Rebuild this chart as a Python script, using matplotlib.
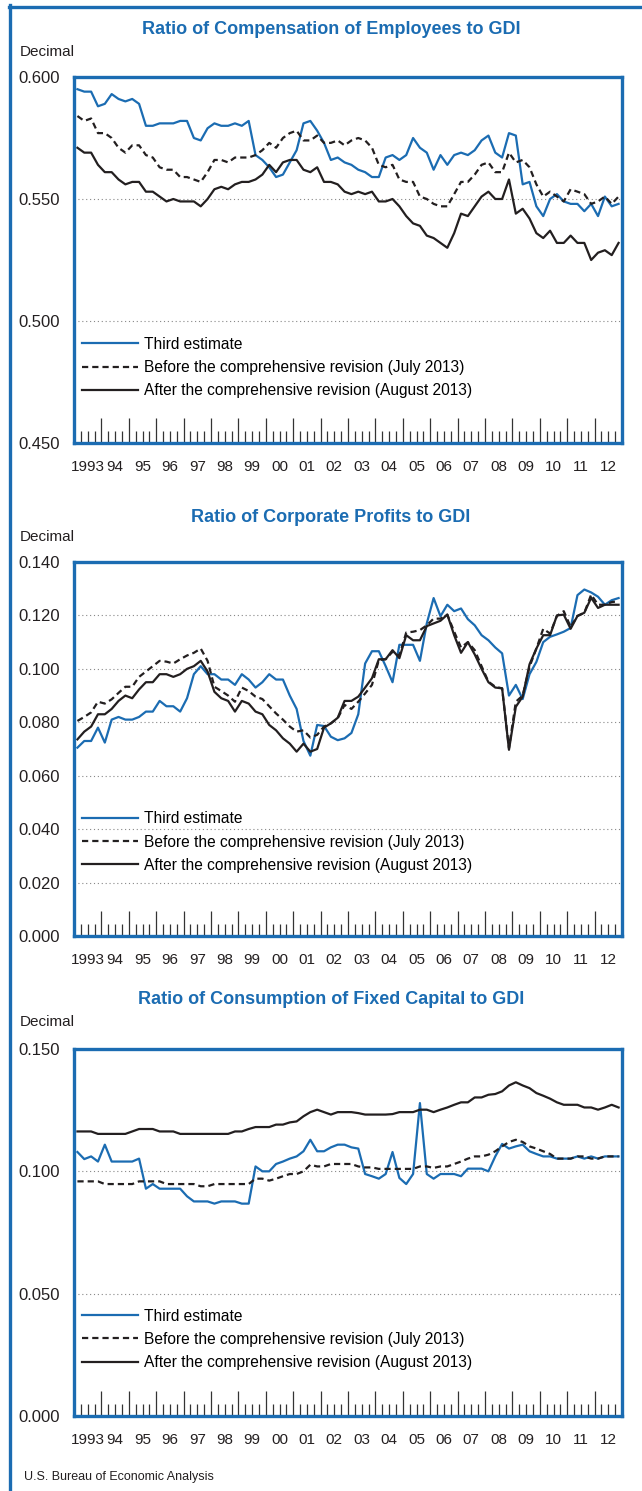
import matplotlib
matplotlib.use("Agg")
import matplotlib.pyplot as plt
from matplotlib.lines import Line2D
import numpy as np

plt.rcParams["font.family"] = ["Liberation Sans", "DejaVu Sans"]

# Quarterly data, 1993:Q1 - 2012:Q4
year_labels = ["1993", "94", "95", "96", "97", "98", "99", "00", "01", "02",
               "03", "04", "05", "06", "07", "08", "09", "10", "11", "12"]

legend_labels = ["Third estimate",
                 "Before the comprehensive revision (July 2013)",
                 "After the comprehensive revision (August 2013)"]

# Ratio of Compensation of Employees to GDI
comp_third = [
    0.595, 0.594, 0.594, 0.588, 0.589, 0.593, 0.591, 0.590, 0.591, 0.589,
    0.580, 0.580, 0.581, 0.581, 0.581, 0.582, 0.582, 0.575, 0.574, 0.579,
    0.581, 0.580, 0.580, 0.581, 0.580, 0.582, 0.568, 0.566, 0.563, 0.559,
    0.560, 0.565, 0.570, 0.581, 0.582, 0.578, 0.573, 0.566, 0.567, 0.565,
    0.564, 0.562, 0.561, 0.559, 0.559, 0.567, 0.568, 0.566, 0.568, 0.575,
    0.571, 0.569, 0.562, 0.568, 0.564, 0.568, 0.569, 0.568, 0.570, 0.574,
    0.576, 0.569, 0.567, 0.577, 0.576, 0.556, 0.557, 0.547, 0.543, 0.550,
    0.552, 0.549, 0.548, 0.548, 0.545, 0.548, 0.543, 0.551, 0.547, 0.548]
comp_before = [
    0.584, 0.582, 0.583, 0.577, 0.577, 0.575, 0.571, 0.569, 0.572, 0.572,
    0.568, 0.567, 0.563, 0.562, 0.562, 0.559, 0.559, 0.558, 0.557, 0.561,
    0.566, 0.566, 0.565, 0.567, 0.567, 0.567, 0.568, 0.570, 0.573, 0.571,
    0.575, 0.577, 0.578, 0.574, 0.574, 0.576, 0.573, 0.573, 0.574, 0.572,
    0.574, 0.575, 0.574, 0.571, 0.564, 0.563, 0.564, 0.558, 0.557, 0.557,
    0.551, 0.550, 0.548, 0.547, 0.547, 0.552, 0.557, 0.557, 0.560, 0.564,
    0.565, 0.561, 0.561, 0.569, 0.565, 0.566, 0.563, 0.556, 0.551, 0.553,
    0.551, 0.549, 0.554, 0.553, 0.552, 0.548, 0.549, 0.551, 0.548, 0.551]
comp_after = [
    0.571, 0.569, 0.569, 0.564, 0.561, 0.561, 0.558, 0.556, 0.557, 0.557,
    0.553, 0.553, 0.551, 0.549, 0.550, 0.549, 0.549, 0.549, 0.547, 0.550,
    0.554, 0.555, 0.554, 0.556, 0.557, 0.557, 0.558, 0.560, 0.564, 0.561,
    0.565, 0.566, 0.566, 0.562, 0.561, 0.563, 0.557, 0.557, 0.556, 0.553,
    0.552, 0.553, 0.552, 0.553, 0.549, 0.549, 0.550, 0.547, 0.543, 0.540,
    0.539, 0.535, 0.534, 0.532, 0.530, 0.536, 0.544, 0.543, 0.547, 0.551,
    0.553, 0.550, 0.550, 0.558, 0.544, 0.546, 0.542, 0.536, 0.534, 0.537,
    0.532, 0.532, 0.535, 0.532, 0.532, 0.525, 0.528, 0.529, 0.527, 0.532]

# Ratio of Corporate Profits to GDI
prof_third = [
    0.0705, 0.073, 0.073, 0.078, 0.0724, 0.081, 0.082, 0.081, 0.081, 0.082,
    0.084, 0.084, 0.088, 0.086, 0.086, 0.084, 0.089, 0.098, 0.101, 0.098,
    0.098, 0.096, 0.096, 0.094, 0.098, 0.096, 0.093, 0.095, 0.098, 0.096,
    0.096, 0.090, 0.085, 0.073, 0.0675, 0.079, 0.0786, 0.0746, 0.0733, 0.074,
    0.076, 0.083, 0.102, 0.1066, 0.1066, 0.101, 0.095, 0.109, 0.109, 0.109,
    0.103, 0.117, 0.1265, 0.1197, 0.124, 0.1216, 0.1226, 0.1186, 0.1163, 0.1126,
    0.1107, 0.108, 0.1058, 0.090, 0.094, 0.0887, 0.098, 0.1026, 0.110, 0.112,
    0.1129, 0.1139, 0.1153, 0.1276, 0.1297, 0.1286, 0.127, 0.124, 0.1257, 0.1265]
prof_before = [
    0.0805, 0.082, 0.0837, 0.0877, 0.087, 0.0886, 0.091, 0.0933, 0.0933, 0.097,
    0.099, 0.101, 0.103, 0.1027, 0.102, 0.1036, 0.105, 0.106, 0.1076, 0.103,
    0.0933, 0.0917, 0.090, 0.0877, 0.093, 0.0917, 0.0896, 0.0887, 0.086, 0.0833,
    0.081, 0.0784, 0.0765, 0.077, 0.0743, 0.0753, 0.0784, 0.0796, 0.0815, 0.0865,
    0.085, 0.0877, 0.0908, 0.094, 0.1033, 0.1036, 0.1064, 0.105, 0.1136, 0.1139,
    0.1145, 0.1163, 0.1188, 0.1188, 0.1203, 0.1139, 0.108, 0.110, 0.107, 0.101,
    0.0952, 0.0933, 0.0927, 0.0703, 0.0877, 0.090, 0.1008, 0.1076, 0.115, 0.1132,
    0.1198, 0.1216, 0.1157, 0.1198, 0.121, 0.1278, 0.124, 0.124, 0.125, 0.1253]
prof_after = [
    0.0736, 0.0765, 0.0784, 0.083, 0.083, 0.085, 0.088, 0.090, 0.089, 0.0923,
    0.095, 0.095, 0.098, 0.098, 0.097, 0.098, 0.100, 0.101, 0.103, 0.099,
    0.0914, 0.089, 0.088, 0.084, 0.088, 0.087, 0.084, 0.083, 0.079, 0.077,
    0.074, 0.072, 0.069, 0.072, 0.069, 0.070, 0.078, 0.0796, 0.0817, 0.088,
    0.088, 0.0896, 0.093, 0.0965, 0.1036, 0.1036, 0.107, 0.104, 0.1126, 0.1107,
    0.1107, 0.116, 0.117, 0.118, 0.1203, 0.1126, 0.106, 0.110, 0.1054, 0.100,
    0.095, 0.093, 0.0927, 0.0697, 0.0858, 0.0896, 0.1017, 0.1076, 0.1126, 0.1126,
    0.120, 0.1203, 0.115, 0.1198, 0.121, 0.1266, 0.1228, 0.124, 0.124, 0.124]

# Ratio of Consumption of Fixed Capital to GDI
cfc_third = [
    0.1079, 0.105, 0.1061, 0.104, 0.1109, 0.104, 0.104, 0.104, 0.104, 0.1052,
    0.0929, 0.0948, 0.0929, 0.0929, 0.0929, 0.0929, 0.0898, 0.0877, 0.0877, 0.0877,
    0.0868, 0.0877, 0.0877, 0.0877, 0.0868, 0.0868, 0.102, 0.100, 0.100, 0.103,
    0.104, 0.1052, 0.1061, 0.1082, 0.1129, 0.1082, 0.1082, 0.1098, 0.1109, 0.1109,
    0.1098, 0.1093, 0.0989, 0.098, 0.097, 0.0989, 0.1079, 0.0973, 0.0948, 0.0989,
    0.1279, 0.0989, 0.097, 0.0989, 0.0989, 0.0989, 0.098, 0.1011, 0.1011, 0.1011,
    0.100, 0.1061, 0.1112, 0.1093, 0.1102, 0.1109, 0.1082, 0.1071, 0.1061, 0.1061,
    0.1052, 0.1052, 0.1052, 0.1061, 0.1052, 0.1061, 0.1052, 0.1061, 0.1061, 0.1061]
cfc_before = [
    0.0959, 0.0959, 0.0959, 0.0959, 0.0948, 0.0948, 0.0948, 0.0948, 0.0948, 0.0959,
    0.0959, 0.0959, 0.0959, 0.0948, 0.0948, 0.0948, 0.0948, 0.0948, 0.0939, 0.0939,
    0.0948, 0.0948, 0.0948, 0.0948, 0.0948, 0.0948, 0.097, 0.097, 0.0962, 0.097,
    0.098, 0.0989, 0.0989, 0.100, 0.1027, 0.102, 0.102, 0.103, 0.103, 0.103,
    0.103, 0.102, 0.1016, 0.1016, 0.101, 0.101, 0.101, 0.101, 0.101, 0.101,
    0.102, 0.102, 0.1014, 0.102, 0.102, 0.103, 0.104, 0.1052, 0.1061, 0.1061,
    0.1068, 0.1082, 0.1102, 0.112, 0.1129, 0.112, 0.1102, 0.1093, 0.1082, 0.1071,
    0.1052, 0.1052, 0.1052, 0.1061, 0.1061, 0.1052, 0.1052, 0.1061, 0.1061, 0.1061]
cfc_after = [
    0.1163, 0.1163, 0.1163, 0.1153, 0.1153, 0.1153, 0.1153, 0.1153, 0.1163, 0.1173,
    0.1173, 0.1173, 0.1163, 0.1163, 0.1163, 0.1153, 0.1153, 0.1153, 0.1153, 0.1153,
    0.1153, 0.1153, 0.1153, 0.1163, 0.1163, 0.1173, 0.1181, 0.1181, 0.1181, 0.1191,
    0.1191, 0.120, 0.1204, 0.1225, 0.1242, 0.1252, 0.1242, 0.1232, 0.1242, 0.1242,
    0.1242, 0.1238, 0.1232, 0.1232, 0.1232, 0.1232, 0.1234, 0.1242, 0.1242, 0.1242,
    0.1252, 0.1252, 0.1242, 0.1252, 0.1261, 0.1272, 0.1282, 0.1282, 0.1302, 0.1302,
    0.1313, 0.1316, 0.1327, 0.1351, 0.1364, 0.1351, 0.134, 0.132, 0.1309, 0.1297,
    0.1282, 0.1272, 0.1272, 0.1272, 0.1261, 0.1261, 0.1252, 0.1261, 0.1272, 0.1261]

panels = [
    ("Ratio of Compensation of Employees to GDI",
     [comp_third, comp_before, comp_after],
     [0.450, 0.500, 0.550, 0.600]),
    ("Ratio of Corporate Profits to GDI",
     [prof_third, prof_before, prof_after],
     [0.000, 0.020, 0.040, 0.060, 0.080, 0.100, 0.120, 0.140]),
    ("Ratio of Consumption of Fixed Capital to GDI",
     [cfc_third, cfc_before, cfc_after],
     [0.000, 0.050, 0.100, 0.150]),
]

BLUE = "#1b6cb2"
DARK = "#231f20"

W, H = 642, 1491
fig = plt.figure(figsize=(W / 100, H / 100), dpi=100)

# axes boxes in pixels: (top, bottom)
boxes = [(77, 443), (562, 936), (1049, 1416)]
title_y = [30, 518, 1000]
unit_y = [52, 537, 1022]
legend_top = [0.29, 0.333, 0.292]
ax_left, ax_right = 74, 622

n = len(comp_third)
x = 1993 + np.arange(n) / 4 + 0.125

for k, (title, series, yticks) in enumerate(panels):
    top, bot = boxes[k]
    ax = fig.add_axes([ax_left / W, 1 - bot / H, (ax_right - ax_left) / W, (bot - top) / H])

    ax.plot(x, series[0], color=BLUE, lw=1.6, label=legend_labels[0])
    ax.plot(x, series[1], color=DARK, lw=1.6, dashes=(2.8, 1.8), label=legend_labels[1])
    ax.plot(x, series[2], color=DARK, lw=1.6, label=legend_labels[2])

    ax.set_xlim(1993, 2013)
    ax.set_ylim(yticks[0], yticks[-1])
    ax.set_yticks(yticks)
    ax.set_yticklabels(["%.3f" % v for v in yticks], fontsize=12, color=DARK)
    ax.tick_params(axis="y", length=0, pad=10)

    for v in yticks[1:-1]:
        ax.axhline(v, color="#888888", lw=0.8, ls=(0, (1, 2.5)), zorder=0)

    # year boundary and quarter ticks, drawn inside from the bottom
    ax.set_xticks(np.arange(1994, 2013))
    ax.set_xticks(np.arange(1993, 2013, 0.25), minor=True)
    ax.tick_params(axis="x", which="major", direction="in", length=18, width=0.9,
                   color="#333333", labelbottom=False, top=False)
    ax.tick_params(axis="x", which="minor", direction="in", length=8.5, width=0.9,
                   color="#333333", top=False)

    for j, lab in enumerate(year_labels):
        ax.annotate(lab, xy=(1993.5 + j, 0), xycoords=("data", "axes fraction"),
                    xytext=(0, -17.5), textcoords="offset points",
                    ha="center", va="center", fontsize=11, color=DARK)

    for s in ax.spines.values():
        s.set_color(BLUE)
        s.set_linewidth(2.4)

    ax.legend(loc="upper left", bbox_to_anchor=(0.015, legend_top[k]), frameon=False,
              fontsize=11.2, handlelength=3.6, handletextpad=0.4, labelspacing=0.52,
              borderpad=0, borderaxespad=0)

    fig.text(331 / W, 1 - title_y[k] / H, title, ha="center", va="center",
             fontsize=13, fontweight="bold", color=BLUE)
    fig.text(20 / W, 1 - unit_y[k] / H, "Decimal", ha="left", va="center",
             fontsize=11, color=DARK)

fig.text(24 / W, 1 - 1477 / H, "U.S. Bureau of Economic Analysis", ha="left",
         va="center", fontsize=9, color=DARK)

# page frame: top and left rules
fig.add_artist(Line2D([9 / W, 1], [1 - 6.5 / H, 1 - 6.5 / H], color=BLUE, lw=2.4))
fig.add_artist(Line2D([9.5 / W, 9.5 / W], [0, 1 - 5 / H], color=BLUE, lw=2.4))

fig.savefig("out.png", dpi=100)
